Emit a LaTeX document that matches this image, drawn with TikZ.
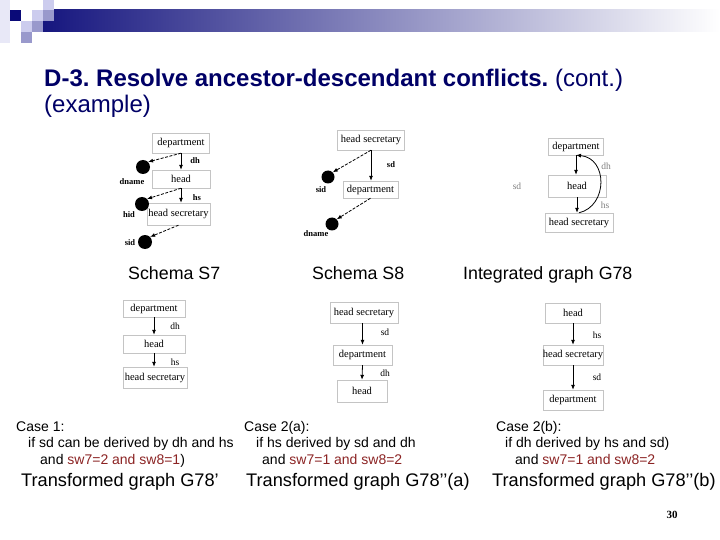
\documentclass[tikz,border=0pt]{standalone}
\usepackage{fontspec}
\setmainfont{Liberation Sans}
\newfontfamily\tms{Liberation Serif}
\usetikzlibrary{arrows.meta}
\definecolor{slideNavy}{HTML}{0A0A78}
\definecolor{slideMid}{HTML}{9999CC}
\definecolor{slideLight}{HTML}{CCCCEE}
\definecolor{titleNavy}{HTML}{000066}
\definecolor{caseRed}{HTML}{8B2323}
\definecolor{boxGray}{HTML}{C4C4C4}
\frenchspacing

\begin{document}
\begin{tikzpicture}[x=1pt, y=-1pt,
    box/.style={draw=boxGray, inner sep=0pt, font=\tms\fontsize{10.5}{12}\selectfont},
    elbl/.style={inner sep=0pt, font=\tms\fontsize{9.5}{10}\selectfont},
    blbl/.style={inner sep=0pt, font=\tms\bfseries\fontsize{8.5}{10}\selectfont},
    attr/.style={circle, fill=black, inner sep=0pt, minimum size=14pt},
    arr/.style={line width=0.8pt, -{Latex[length=5pt,width=4pt]}},
    fk/.style={arr, dashed, dash pattern=on 3pt off 1.5pt},
    caption/.style={anchor=base west, inner sep=0pt, font=\fontsize{17.8}{19}\selectfont},
    casetxt/.style={anchor=base west, inner sep=0pt, font=\fontsize{14}{15}\selectfont},
    result/.style={anchor=base west, inner sep=0pt, font=\fontsize{18.2}{20}\selectfont}]
\useasboundingbox (0,0) rectangle (720,540);
% header bar
\fill[slideLight!45] (0,0) rectangle (10,43);
\shade[left color=slideNavy!95!white, right color=white] (43,10) rectangle (720,32);
\fill[slideLight] (43,0) rectangle (54,10);
\fill[slideNavy] (10,10) rectangle (21,21);
\fill[slideLight] (32,10) rectangle (43,21);
\fill[slideMid] (43,10) rectangle (54,21);
\fill[slideLight] (21,21) rectangle (32,32);
\fill[slideMid] (32,21) rectangle (43,32);
\fill[slideMid] (21,32) rectangle (32,43);
\node[anchor=base west, inner sep=0pt, text=titleNavy, font=\bfseries\fontsize{24}{28}\selectfont] (title) at (44,87) {D-3. Resolve ancestor-descendant conflicts. {\mdseries (cont.)}};
\node[anchor=base west, inner sep=0pt, text=titleNavy, font=\fontsize{24}{28}\selectfont] (title2) at (44,113) {(example)};

% Schema S7
\node[box, minimum width=57pt, minimum height=20pt] (s7dep) at (181,143) {department};
\node[box, minimum width=58pt, minimum height=18pt] (s7head) at (181,179) {head};
\node[box, minimum width=63pt, minimum height=22pt] (s7hs) at (178.5,214) {head secretary};
\draw[arr] (s7dep.south) -- (s7head.north);
\draw[arr] (s7head.south) -- (s7head.south |- s7hs.north);
\node[blbl] (s7dh) at (195,161) {dh};
\node[blbl] (s7hslbl) at (197,198) {hs};
\node[attr] (s7dname) at (143,167) {};
\node[attr] (s7hid) at (142,204) {};
\node[attr] (s7sid) at (145,242) {};
\draw[fk] (s7dep.south) -- (s7dname.north east);
\draw[fk] (s7head.south) -- (s7hid.north east);
\draw[fk] (s7hs.south) -- (s7sid.north east);
\node[blbl] (s7dnamelbl) at (132,182) {dname};
\node[blbl] (s7hidlbl) at (129,215) {hid};
\node[blbl] (s7sidlbl) at (130,243) {sid};
\node[caption] (capS7) at (128,279) {Schema S7};

% Schema S8
\node[box, minimum width=67pt, minimum height=20pt] (s8hs) at (371,140) {head secretary};
\node[box, minimum width=55pt, minimum height=17pt] (s8dep) at (370.5,189.5) {department};
\draw[arr] (s8hs.south) -- (s8hs.south |- s8dep.north);
\node[blbl] (s8sd) at (391,165) {sd};
\node[attr, minimum size=13pt] (s8sid) at (328,177) {};
\node[attr, minimum size=13pt] (s8dname) at (332,224) {};
\draw[fk] (s8hs.south) -- (s8sid.north east);
\draw[fk] (s8dep.south) -- (s8dname.north east);
\node[blbl] (s8sidlbl) at (321,190) {sid};
\node[blbl] (s8dnamelbl) at (316,234) {dname};
\node[caption] (capS8) at (312,279) {Schema S8};

% Integrated graph G78
\node[box, minimum width=55pt, minimum height=17pt] (gdep) at (576,146.5) {department};
\node[box, minimum width=58pt, minimum height=22pt] (ghead) at (577,186) {head};
\node[box, minimum width=68pt, minimum height=19pt] (ghs) at (579,222.5) {head secretary};
\draw[arr] (gdep.south) -- (gdep.south |- ghead.north);
\draw[arr] (ghead.south) -- (ghead.south |- ghs.north);
\draw[arr] (ghs.north) .. controls (608,206) and (608,158) .. (gdep.south);
\node[elbl, text=gray] (gdh) at (606,166) {dh};
\node[elbl, text=gray] (ghslbl) at (605,205) {hs};
\node[elbl, text=gray] (gsd) at (517,186) {sd};
\node[caption] (capG) at (463,279) {Integrated graph G78};

% Transformed graph G78'
\node[box, minimum width=62pt, minimum height=17pt] (adep) at (154,308.5) {department};
\node[box, minimum width=62pt, minimum height=18pt] (ahead) at (154,344) {head};
\node[box, minimum width=64pt, minimum height=21pt] (ahs) at (155,377.5) {head secretary};
\draw[arr] (adep.south) -- (ahead.north);
\draw[arr] (ahead.south) -- (ahead.south |- ahs.north);
\node[elbl] (adh) at (175,326) {dh};
\node[elbl] (ahslbl) at (175,362) {hs};

% Transformed graph G78''(a)
\node[box, minimum width=68pt, minimum height=21pt] (bhs) at (364,312.5) {head secretary};
\node[box, minimum width=59pt, minimum height=20pt] (bdep) at (362.5,355) {department};
\node[box, minimum width=50pt, minimum height=22pt] (bhead) at (362,391) {head};
\draw[arr] (bhs.south -| bdep.north) -- (bdep.north);
\draw[arr] (bdep.south) -- (bhead.north);
\node[elbl] (bsd) at (385,332) {sd};
\node[elbl] (bdh) at (385,373) {dh};

% Transformed graph G78''(b)
\node[box, minimum width=55pt, minimum height=20pt] (chead) at (573,313) {head};
\node[box, minimum width=60pt, minimum height=20pt] (chs) at (573,355) {head secretary};
\node[box, minimum width=60pt, minimum height=20pt] (cdep) at (573,400) {department};
\draw[arr] (chead.south) -- (chs.north);
\draw[arr] (chs.south) -- (cdep.north);
\node[elbl] (chslbl) at (597,335) {hs};
\node[elbl] (csd) at (597,377) {sd};

% cases
\node[casetxt] (case1) at (16,431) {Case 1:};
\node[casetxt] (case1b) at (28,447) {if sd can be derived by dh and hs};
\node[casetxt] (case1c) at (40,464) {and \textcolor{caseRed}{sw7=2 and sw8=1})};
\node[casetxt] (case2) at (244,431) {Case 2(a):};
\node[casetxt] (case2b) at (256,447) {if hs derived by sd and dh};
\node[casetxt] (case2c) at (262,464) {and \textcolor{caseRed}{sw7=1 and sw8=2}};
\node[casetxt] (case3) at (496,431) {Case 2(b):};
\node[casetxt] (case3b) at (505,447) {if dh derived by hs and sd)};
\node[casetxt] (case3c) at (515,464) {and \textcolor{caseRed}{sw7=1 and sw8=2}};
\node[result] (resA) at (21,486) {Transformed graph G78’};
\node[result] (resB) at (246,486) {Transformed graph G78’\kern-0.5pt’(a)};
\node[result] (resC) at (492,486) {Transformed graph G78’\kern-0.5pt’(b)};
\node[inner sep=0pt, font=\tms\bfseries\fontsize{11}{12}\selectfont] (pagenum) at (672,515) {30};
\end{tikzpicture}
\end{document}
